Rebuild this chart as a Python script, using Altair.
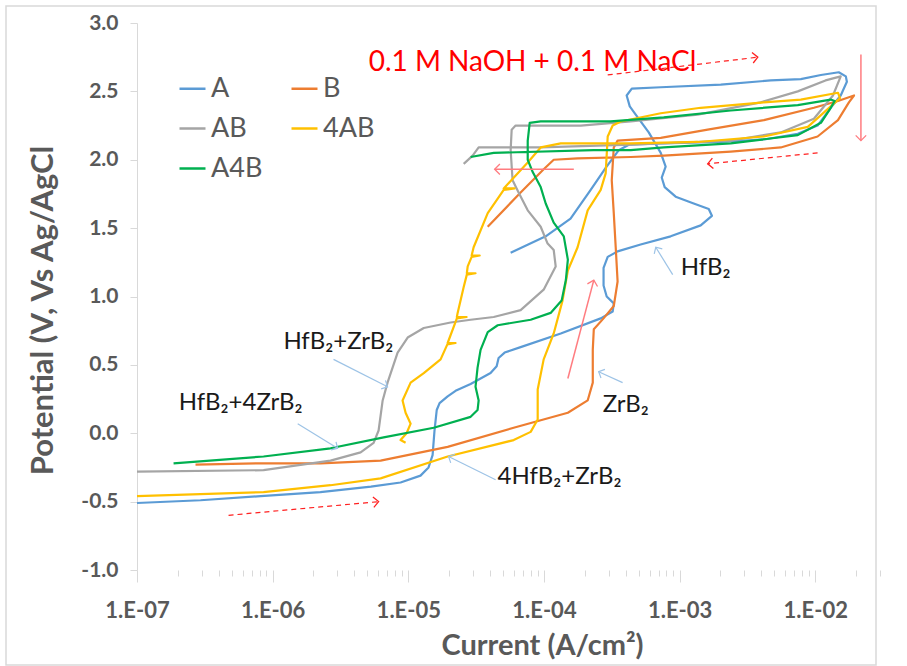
import math
import altair as alt
import pandas as pd

# ---- polarization curves (current in A/cm², potential in V vs Ag/AgCl) ----
series_names = ["A", "B", "AB", "4AB", "A4B"]
series_colors = ["#5B9BD5", "#ED7D31", "#A5A5A5", "#FFC000", "#00B050"]

a_current = [1.0e-7, 2.94e-7, 8.15e-7, 2.25e-6, 5.3e-6, 8.77e-6, 1.23e-5, 1.41e-5, 1.51e-5, 1.56e-5,
             1.62e-5, 1.70e-5, 1.95e-5, 2.23e-5, 2.88e-5, 4.04e-5, 4.48e-5, 4.63e-5, 5.13e-5, 6.73e-5,
             1.33e-4, 2.62e-4, 3.21e-4, 3.27e-4, 2.90e-4, 2.75e-4, 2.75e-4, 2.95e-4, 3.49e-4, 5.16e-4,
             8.59e-4, 1.43e-3, 1.73e-3, 1.64e-3, 1.27e-3, 9.35e-4, 7.76e-4, 7.38e-4, 7.89e-4, 7.26e-4,
             5.92e-4, 4.91e-4, 4.29e-4, 4.07e-4, 4.44e-4, 7.26e-4, 2.01e-3, 4.70e-3, 7.82e-3, 1.10e-2,
             1.49e-2, 1.68e-2, 1.71e-2, 1.54e-2, 1.30e-2, 1.04e-2, 7.43e-3, 4.31e-3, 2.01e-3, 7.26e-4,
             4.22e-4, 3.56e-4, 2.85e-4, 2.21e-4, 1.57e-4, 1.03e-4, 5.68e-5]
a_potential = [-0.51, -0.49, -0.46, -0.43, -0.39, -0.36, -0.31, -0.25, -0.16, 0.02,
               0.17, 0.22, 0.27, 0.31, 0.36, 0.44, 0.49, 0.55, 0.59, 0.63,
               0.73, 0.84, 0.89, 0.95, 1.00, 1.08, 1.21, 1.29, 1.33, 1.38,
               1.44, 1.52, 1.59, 1.64, 1.68, 1.73, 1.80, 1.87, 1.95, 2.05,
               2.20, 2.31, 2.39, 2.47, 2.52, 2.53, 2.55, 2.58, 2.59, 2.62,
               2.64, 2.61, 2.57, 2.47, 2.38, 2.25, 2.19, 2.15, 2.13, 2.12,
               2.11, 2.07, 1.94, 1.78, 1.57, 1.44, 1.32]

b_current = [2.70e-7, 8.15e-7, 2.25e-6, 6.25e-6, 1.95e-5, 5.98e-5, 1.50e-4, 2.10e-4, 2.29e-4, 2.29e-4,
             2.33e-4, 2.75e-4, 3.27e-4, 3.49e-4, 3.38e-4, 3.27e-4, 3.16e-4, 3.27e-4, 3.49e-4, 7.26e-4,
             1.61e-3, 4.18e-3, 9.77e-3, 1.47e-2, 1.93e-2, 1.77e-2, 1.47e-2, 1.04e-2, 5.57e-3, 2.38e-3,
             7.64e-4, 4.36e-4, 1.77e-4, 1.18e-4, 9.95e-5, 6.73e-5, 3.85e-5]
b_potential = [-0.23, -0.22, -0.22, -0.20, -0.10, 0.04, 0.15, 0.24, 0.37, 0.61,
               0.76, 0.84, 0.93, 1.11, 1.36, 1.61, 1.85, 2.09, 2.14, 2.16,
               2.22, 2.29, 2.38, 2.43, 2.47, 2.42, 2.29, 2.17, 2.09, 2.06,
               2.03, 2.02, 2.01, 2.00, 1.93, 1.76, 1.51]

ab_current = [1.0e-7, 8.57e-7, 2.67e-6, 4.45e-6, 5.55e-6, 6.04e-6, 6.47e-6, 7.03e-6, 8.34e-6, 9.89e-6,
              1.30e-5, 2.05e-5, 2.88e-5, 4.26e-5, 6.73e-5, 9.95e-5, 1.22e-4, 1.18e-4, 1.06e-4, 9.46e-5,
              7.59e-5, 6.50e-5, 5.87e-5, 5.68e-5, 5.78e-5, 6.18e-5, 1.87e-4, 4.36e-4, 1.36e-3, 3.96e-3,
              7.43e-3, 1.19e-2, 1.54e-2, 1.35e-2, 9.77e-3, 5.57e-3, 2.38e-3, 4.36e-4, 9.46e-5, 3.30e-5,
              2.98e-5, 2.56e-5]
ab_potential = [-0.28, -0.27, -0.20, -0.14, -0.07, 0.02, 0.24, 0.37, 0.59, 0.70,
                0.77, 0.81, 0.83, 0.85, 0.90, 1.05, 1.22, 1.34, 1.39, 1.51,
                1.63, 1.76, 1.85, 2.07, 2.22, 2.25, 2.25, 2.28, 2.33, 2.42,
                2.50, 2.58, 2.61, 2.47, 2.30, 2.20, 2.14, 2.11, 2.09, 2.09,
                2.03, 1.97]

ab4_current = [1.0e-7, 8.57e-7, 2.67e-6, 6.25e-6, 1.95e-5, 5.98e-5, 7.98e-5, 8.99e-5, 8.99e-5, 9.95e-5,
               1.18e-4, 1.37e-4, 1.50e-4, 1.77e-4, 2.10e-4, 2.62e-4, 2.85e-4, 2.95e-4, 3.21e-4, 3.68e-4,
               7.26e-4, 1.43e-3, 4.18e-3, 7.82e-3, 1.47e-2, 1.52e-2,
               1.30e-2, 8.81e-3, 4.18e-3, 1.36e-3, 4.36e-4, 1.33e-4, 9.46e-5, 7.59e-5, 5.05e-5, 6.08e-5,
               5.05e-5, 3.85e-5, 3.03e-5, 2.93e-5, 3.36e-5, 2.93e-5, 2.74e-5, 2.70e-5, 3.13e-5, 2.70e-5,
               2.56e-5, 2.31e-5, 2.28e-5, 2.69e-5, 2.28e-5, 1.95e-5, 2.23e-5, 1.94e-5, 1.73e-5, 1.30e-5,
               1.04e-5, 9.07e-6, 9.55e-6, 1.04e-5, 9.71e-6, 8.77e-6, 9.55e-6]
ab4_potential = [-0.46, -0.43, -0.38, -0.33, -0.17, -0.05, 0.01, 0.10, 0.32, 0.54,
                 0.73, 0.97, 1.19, 1.36, 1.63, 1.78, 1.90, 2.17, 2.25, 2.28,
                 2.34, 2.38, 2.42, 2.44, 2.49, 2.45,
                 2.39, 2.24, 2.17, 2.13, 2.12, 2.12, 2.09, 1.98, 1.79, 1.79,
                 1.78, 1.61, 1.36, 1.30, 1.30, 1.29, 1.22, 1.17, 1.17, 1.16,
                 1.07, 0.88, 0.85, 0.85, 0.84, 0.66, 0.66, 0.65, 0.54, 0.44,
                 0.37, 0.24, 0.15, 0.07, 0.00, -0.05, -0.07]

a4b_current = [1.86e-7, 8.57e-7, 2.67e-6, 6.58e-6, 1.54e-5, 2.88e-5, 3.24e-5, 3.30e-5, 3.13e-5, 3.24e-5,
               3.41e-5, 3.85e-5, 4.56e-5, 7.98e-5, 1.12e-4, 1.35e-4, 1.45e-4, 1.50e-4, 1.40e-4, 1.18e-4,
               1.03e-4, 9.46e-5, 8.26e-5, 7.59e-5, 7.59e-5, 7.85e-5, 9.46e-5, 3.10e-4, 7.64e-4, 2.38e-3,
               7.43e-3, 1.30e-2, 1.39e-2, 1.30e-2, 1.10e-2, 7.43e-3, 2.38e-3, 7.64e-4, 4.36e-4, 2.32e-4,
               4.26e-5, 2.88e-5]
a4b_potential = [-0.22, -0.17, -0.11, -0.03, 0.04, 0.12, 0.17, 0.24, 0.34, 0.48,
                 0.61, 0.74, 0.79, 0.83, 0.88, 0.97, 1.12, 1.27, 1.44, 1.54,
                 1.68, 1.80, 1.91, 2.00, 2.14, 2.27, 2.28, 2.28, 2.31, 2.36,
                 2.40, 2.44, 2.43, 2.38, 2.27, 2.18, 2.12, 2.09, 2.07, 2.07,
                 2.05, 2.02]

# ---- sample labels ----
label_text = ["HfB₂", "ZrB₂", "4HfB₂+ZrB₂", "HfB₂+ZrB₂", "HfB₂+4ZrB₂"]
label_current = [1.02e-3, 2.71e-4, 4.55e-5, 1.20e-6, 2.03e-7]
label_potential = [1.21, 0.21, -0.32, 0.67, 0.22]

# pointers from each label to its curve
pointer_tail_current = [8.89e-4, 3.80e-4, 4.40e-5, 2.81e-6, 1.53e-6]
pointer_tail_potential = [1.16, 0.37, -0.34, 0.54, 0.07]
pointer_head_current = [6.67e-4, 2.53e-4, 1.98e-5, 7.03e-6, 3.01e-6]
pointer_head_potential = [1.36, 0.45, -0.17, 0.34, -0.11]

# scan-direction arrows
scan_tail_current = [2.95e-4, 2.17e-2, 1.04e-2, 1.66e-4, 1.50e-4, 4.73e-7]
scan_tail_potential = [2.62, 2.77, 2.05, 1.93, 0.40, -0.60]
scan_head_current = [3.77e-3, 2.17e-2, 1.61e-3, 4.33e-5, 2.33e-4, 6.04e-6]
scan_head_potential = [2.75, 2.14, 1.97, 1.93, 1.12, -0.50]
scan_dashed = [True, False, True, False, False, True]

electrolyte = "0.1 M NaOH + 0.1 M NaCl"
electrolyte_current = 5.10e-6
electrolyte_potential = 2.71

# ---- layout ----
PLOT_W, PLOT_H = 743, 547
X_MIN, X_MAX = 1e-7, 3e-2
Y_MIN, Y_MAX = -1.0, 3.0
PX_PER_DECADE = PLOT_W / math.log10(X_MAX / X_MIN)
PX_PER_VOLT = PLOT_H / (Y_MAX - Y_MIN)
FONT = "Lato"
AXIS_GREY = "#595959"
LINE_GREY = "#D9D9D9"


def heading(c0, v0, c1, v1):
    dx = math.log10(c1 / c0) * PX_PER_DECADE
    dy = -(v1 - v0) * PX_PER_VOLT
    return math.degrees(math.atan2(dy, dx)) % 360


frames = []
for name, cur, pot in zip(series_names,
                          [a_current, b_current, ab_current, ab4_current, a4b_current],
                          [a_potential, b_potential, ab_potential, ab4_potential, a4b_potential]):
    frames.append(pd.DataFrame({"series": name, "current": cur, "potential": pot,
                                "step": range(len(cur))}))
curves = pd.concat(frames, ignore_index=True)

pointers = pd.DataFrame({"current": pointer_tail_current, "potential": pointer_tail_potential,
                         "hc": pointer_head_current, "hv": pointer_head_potential})
pointers["angle"] = [heading(a, b, c, d) for a, b, c, d in
                     zip(pointer_tail_current, pointer_tail_potential,
                         pointer_head_current, pointer_head_potential)]

scans = pd.DataFrame({"current": scan_tail_current, "potential": scan_tail_potential,
                      "hc": scan_head_current, "hv": scan_head_potential,
                      "dashed": scan_dashed})
scans["angle"] = [heading(a, b, c, d) for a, b, c, d in
                  zip(scan_tail_current, scan_tail_potential,
                      scan_head_current, scan_head_potential)]

labels = pd.DataFrame({"text": label_text, "current": label_current, "potential": label_potential})

x_scale = alt.Scale(type="log", domain=[X_MIN, X_MAX], nice=False)
y_scale = alt.Scale(domain=[Y_MIN, Y_MAX], nice=False, zero=False)

decade_test = "abs(log(datum.value)/LN10 - round(log(datum.value)/LN10)) < 0.01"
x_tick_values = []
for e in range(-7, -1):
    for m in range(1, 10):
        v = m * 10.0 ** e
        if v <= X_MAX * 1.0001:
            x_tick_values.append(float(f"{v:.3g}"))

x_axis = alt.Axis(
    values=x_tick_values,
    labelExpr=f"({decade_test}) ? '1.E-0' + (-round(log(datum.value)/LN10)) : ''",
    tickSize={"condition": {"test": decade_test, "value": 12}, "value": 6},
    tickColor=LINE_GREY, domain=False, grid=False,
    labelFontSize=22, labelFontWeight="bold", labelColor=AXIS_GREY, labelPadding=18,
    labelFlush=False, labelOverlap=False,
    title="Current (A/cm²)", titleFontSize=29, titleFontWeight="bold", titleColor=AXIS_GREY,
    titleX=405, titleY=75, titleBaseline="middle", titleAlign="center",
)
y_axis = alt.Axis(
    values=[-1.0, -0.5, 0.0, 0.5, 1.0, 1.5, 2.0, 2.5, 3.0],
    labelExpr="(datum.value < 0 ? '-' : '') + format(abs(datum.value), '.1f')",
    tickSize=7, tickColor=LINE_GREY, domainColor=LINE_GREY, grid=False,
    labelFontSize=21, labelFontWeight="bold", labelColor=AXIS_GREY, labelPadding=12,
    title="Potential (V, Vs Ag/AgCl", titleFontSize=31, titleFontWeight="bold", titleColor=AXIS_GREY,
    titleX=-94, titleY=287, titleAngle=270, titleBaseline="middle", titleAlign="center",
)

X = alt.X("current:Q", scale=x_scale, axis=x_axis)
Y = alt.Y("potential:Q", scale=y_scale, axis=y_axis)

lines = alt.Chart(curves).mark_line(strokeWidth=2.2, strokeJoin="round").encode(
    x=X, y=Y,
    color=alt.Color("series:N", scale=alt.Scale(domain=series_names, range=series_colors),
                    legend=alt.Legend(title=None, orient="none", legendX=41, legendY=51,
                                      direction="horizontal", columns=2,
                                      symbolType="stroke", symbolSize=676,
                                      symbolStrokeWidth=2.5, labelFont=FONT, labelFontSize=27,
                                      labelColor=AXIS_GREY, labelOffset=4, columnPadding=23,
                                      rowPadding=12)),
    order="step:Q",
)

chevron = "M -1 -1 L 0 0 L -1 1"

pointer_shafts = alt.Chart(pointers).mark_rule(color="#9DC3E6", strokeWidth=1.2).encode(
    x=X, x2="hc:Q", y=Y, y2="hv:Q",
)
pointer_heads = alt.Chart(pointers).mark_point(shape=chevron, size=90, color="#9DC3E6",
                                               strokeWidth=1.2, filled=False, opacity=1).encode(
    x=alt.X("hc:Q", scale=x_scale, axis=x_axis),
    y=alt.Y("hv:Q", scale=y_scale, axis=y_axis),
    angle=alt.Angle("angle:Q", scale=None),
)

dashed_scans = alt.Chart(scans).transform_filter("datum.dashed").mark_rule(
    color="#FF2020", strokeWidth=1.2, strokeDash=[5, 4]).encode(
    x=X, x2="hc:Q", y=Y, y2="hv:Q",
)
solid_scans = alt.Chart(scans).transform_filter("!datum.dashed").mark_rule(
    color="#FF7C80", strokeWidth=1.5).encode(
    x=X, x2="hc:Q", y=Y, y2="hv:Q",
)
scan_heads = alt.Chart(scans).mark_point(shape=chevron, size=110, strokeWidth=1.3,
                                         filled=False, opacity=1).encode(
    x=alt.X("hc:Q", scale=x_scale, axis=x_axis),
    y=alt.Y("hv:Q", scale=y_scale, axis=y_axis),
    angle=alt.Angle("angle:Q", scale=None),
    color=alt.condition("datum.dashed", alt.value("#FF2020"), alt.value("#FF7C80")),
)

label_marks = alt.Chart(labels).mark_text(align="left", baseline="middle", font=FONT,
                                          fontSize=24, color="#1A1A1A").encode(
    x=X, y=Y, text="text:N",
)

electrolyte_mark = alt.Chart(pd.DataFrame({"text": [electrolyte], "current": [electrolyte_current],
                                           "potential": [electrolyte_potential]})).mark_text(
    align="left", baseline="middle", font=FONT, fontSize=28, color="#FF0000").encode(
    x=X, y=Y, text="text:N",
)

frame = alt.Chart(pd.DataFrame({"frame": [0]})).mark_rect(
    fillOpacity=0, stroke=LINE_GREY, strokeWidth=1.5).encode(
    x=alt.value(-131), x2=alt.value(739), y=alt.value(-17), y2=alt.value(642),
)

chart = alt.layer(
    lines, pointer_shafts, pointer_heads, dashed_scans, solid_scans, scan_heads,
    label_marks, electrolyte_mark, frame,
).properties(
    width=PLOT_W, height=PLOT_H,
    autosize=alt.AutoSizeParams(type="none"),
    padding={"left": 137, "top": 23, "right": 27, "bottom": 96},
    background="white",
).configure_view(strokeWidth=0).configure_axis(
    labelFont=FONT, titleFont=FONT,
).configure_legend(labelFont=FONT)

chart.save("out.html", embed_options={"renderer": "svg", "actions": False})
